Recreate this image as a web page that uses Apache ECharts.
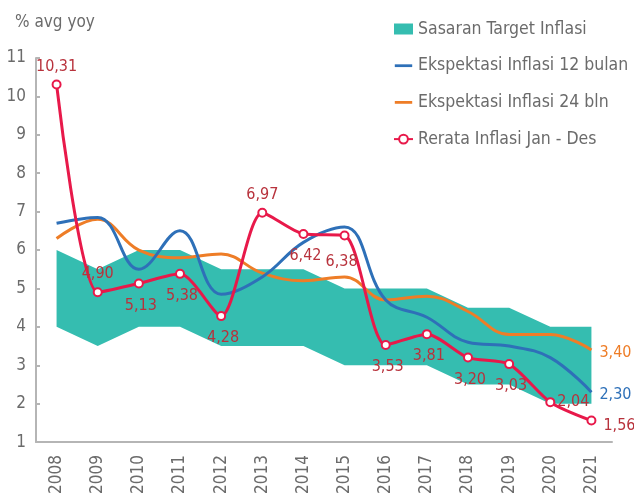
<!DOCTYPE html>
<html>
<head>
<meta charset="utf-8">
<script src="https://cdn.jsdelivr.net/npm/echarts@6/dist/echarts.min.js"></script>
<style>
  html, body { margin: 0; padding: 0; background: #fff; }
  #chart { width: 634px; height: 497px; }
</style>
</head>
<body>
<div id="chart"></div>
<script>
// Years on the category axis
var years = ['2008','2009','2010','2011','2012','2013','2014','2015','2016','2017','2018','2019','2020','2021'];

// Inflation target band (lower and upper bounds)
var targetLower = [4, 3.5, 4, 4, 3.5, 3.5, 3.5, 3, 3, 3, 2.5, 2.5, 2, 2];
var targetUpper = [6, 5.5, 6, 6, 5.5, 5.5, 5.5, 5, 5, 5, 4.5, 4.5, 4, 4];

// 12-month inflation expectations
var expect12 = [6.7, 6.85, 5.5, 6.5, 4.85, 5.3, 6.2, 6.6, 4.7, 4.25, 3.6, 3.5, 3.2, 2.30];

// 24-month inflation expectations
var expect24 = [6.3, 6.8, 6.0, 5.8, 5.9, 5.4, 5.2, 5.3, 4.7, 4.8, 4.4, 3.8, 3.8, 3.40];

// Average inflation Jan - Dec
var actual = [10.31, 4.90, 5.13, 5.38, 4.28, 6.97, 6.42, 6.38, 3.53, 3.81, 3.20, 3.03, 2.04, 1.56];

// Label placement for the actual inflation points
var actualLabelPos = ['top','top','bottom','bottom','bottom','top','bottom','bottom','bottom','bottom','bottom','bottom','right','right'];

var FONT = '"DejaVu Sans Condensed", "Roboto", sans-serif';
var GREY = '#6b6b6b';
var AXIS = '#b5b5b5';
var TEAL = '#35bdb0';
var BLUE = '#2e70b8';
var ORANGE = '#ee7d27';
var RED = '#e8194a';
var RED_LABEL = '#b8323c';
var LINE_ICON = 'path://M0,0 M19,12 M0,4.5 L19,4.5 L19,7.5 L0,7.5 Z';

function fmt(v) { return v.toFixed(2).replace('.', ','); }

var bandWidth = targetUpper.map(function (u, i) { return u - targetLower[i]; });

var actualData = actual.map(function (v, i) {
  var pos = actualLabelPos[i];
  var last = i === actual.length - 1;
  var dist = pos === 'right' ? (last ? 7 : 2) : (pos === 'bottom' ? 9 : 5);
  var off = [0, 0];
  if (pos === 'bottom') off = [2, 0];
  if (i === 7) off = [-3, 4];
  if (last) off = [0, 5];
  return {
    value: v,
    label: { position: pos, distance: dist, offset: off }
  };
});

function endLabel(color) {
  return {
    show: true, distance: 8, offset: [0, 3], color: color,
    fontFamily: FONT, fontSize: 16,
    formatter: function (p) { return fmt(p.value); }
  };
}

var chart = echarts.init(document.getElementById('chart'), null, { renderer: 'canvas' });

chart.setOption({
  animation: false,
  backgroundColor: '#fff',
  title: {
    text: '% avg yoy',
    left: 10, top: 9,
    textStyle: { color: GREY, fontFamily: FONT, fontSize: 17, fontWeight: 'normal' }
  },
  legend: {
    orient: 'vertical',
    left: 388, top: 15,
    itemWidth: 19, itemHeight: 11,
    itemGap: 18.7,
    textStyle: { color: GREY, fontFamily: FONT, fontSize: 17.5 },
    data: [
      { name: 'Sasaran Target Inflasi', icon: 'rect' },
      { name: 'Ekspektasi Inflasi 12 bulan', icon: LINE_ICON },
      { name: 'Ekspektasi Inflasi 24 bln', icon: LINE_ICON },
      { name: 'Rerata Inflasi Jan - Des' }
    ]
  },
  grid: { left: 36, right: 22, top: 58, bottom: 51, containLabel: false },
  xAxis: {
    type: 'category',
    data: years,
    boundaryGap: true,
    axisLine: { lineStyle: { color: AXIS, width: 2 } },
    axisTick: { inside: true, length: 4, lineStyle: { color: AXIS, width: 2 } },
    axisLabel: { rotate: 90, margin: 13, color: GREY, fontFamily: FONT, fontSize: 17 }
  },
  yAxis: {
    type: 'value',
    min: 1, max: 11, interval: 1,
    splitLine: { show: false },
    axisLine: { show: true, lineStyle: { color: AXIS, width: 2 } },
    axisTick: { show: true, inside: true, length: 4, lineStyle: { color: AXIS, width: 2 } },
    axisLabel: { margin: 10, color: GREY, fontFamily: FONT, fontSize: 17 }
  },
  series: [
    {
      name: 'band-base',
      type: 'line',
      stack: 'band',
      data: targetLower,
      symbol: 'none',
      lineStyle: { opacity: 0 },
      silent: true,
      z: 1
    },
    {
      name: 'Sasaran Target Inflasi',
      type: 'line',
      stack: 'band',
      data: bandWidth,
      symbol: 'none',
      color: TEAL,
      lineStyle: { opacity: 0 },
      areaStyle: { color: TEAL, opacity: 1 },
      silent: true,
      z: 1
    },
    {
      name: 'Ekspektasi Inflasi 12 bulan',
      type: 'line',
      data: expect12,
      smooth: 0.4,
      symbol: 'none',
      color: BLUE,
      lineStyle: { color: BLUE, width: 3 },
      endLabel: endLabel(BLUE),
      z: 3
    },
    {
      name: 'Ekspektasi Inflasi 24 bln',
      type: 'line',
      data: expect24,
      smooth: 0.4,
      symbol: 'none',
      color: ORANGE,
      lineStyle: { color: ORANGE, width: 3 },
      endLabel: endLabel(ORANGE),
      z: 2
    },
    {
      name: 'Rerata Inflasi Jan - Des',
      type: 'line',
      data: actualData,
      smooth: 0.25,
      symbol: 'circle',
      symbolSize: 8,
      color: RED,
      itemStyle: { color: '#fff', borderColor: RED, borderWidth: 2 },
      lineStyle: { color: RED, width: 3 },
      label: {
        show: true,
        color: RED_LABEL,
        fontFamily: FONT,
        fontSize: 16,
        formatter: function (p) { return fmt(p.value); }
      },
      z: 4
    }
  ]
});
</script>
</body>
</html>
